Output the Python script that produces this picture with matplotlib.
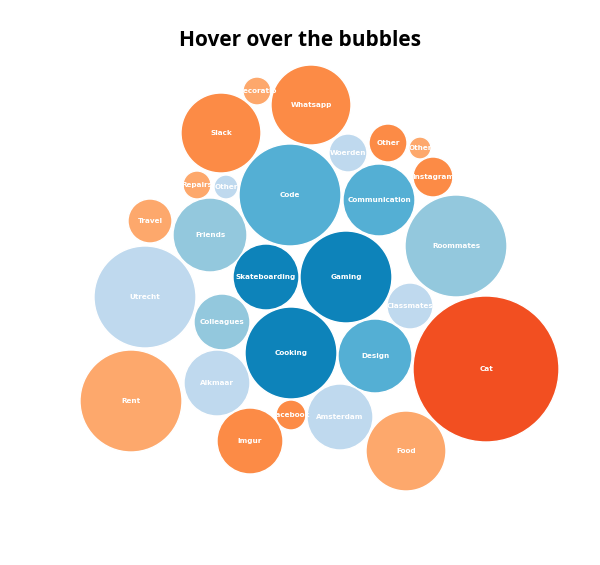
import matplotlib.pyplot as plt
from matplotlib.patches import Circle

labels = ["Whatsapp","Decoratio","Slack","Woerden","Other","Other","Instagram","Code","Communication",
          "Repairs","Other","Travel","Friends","Roommates","Utrecht","Skateboarding","Gaming","Classmates",
          "Colleagues","Cooking","Design","Cat","Rent","Alkmaar","Facebook","Amsterdam","Imgur","Food"]
cx = [311,257,221,348,388,420,433,290,379,197,226,150,210,456,145,266,346,410,222,291,375,486,131,217,291,340,250,406]
cy = [105,91,133,153,143,148,177,195,200,185,187,221,235,246,297,277,277,306,322,353,356,369,401,383,415,417,441,451]
rad = [40,14,40,19,19,11,20,51,36,14,12,22,37,51,51,33,46,23,28,46,37,73,51,33,15,33,33,40]
groups = ["o","lo","o","p","o","lo","o","m","m","lo","p","lo","l","l","p","d","d","p","l","d","m","r","lo","p","o","p","o","lo"]
palette = {"o":"#fc8b46","lo":"#fda86c","r":"#f24f21","d":"#0d83ba","m":"#54afd4","l":"#93c8dd","p":"#bfd9ee"}

fig = plt.figure(figsize=(6,5.65), dpi=100)
ax = fig.add_axes([0,0,1,1])
ax.set_xlim(0,600); ax.set_ylim(565,0); ax.set_aspect('equal'); ax.axis('off')
for l,x,y,r,g in zip(labels,cx,cy,rad,groups):
    ax.add_patch(Circle((x,y),r,facecolor=palette[g],edgecolor='white',lw=1))
    ax.text(x,y,l,color='white',fontsize=5.2,ha='center',va='center',fontweight='bold')
ax.text(300,40,"Hover over the bubbles",fontsize=15,fontweight='bold',ha='center',va='center',family='Open Sans')
fig.savefig("out.png")
